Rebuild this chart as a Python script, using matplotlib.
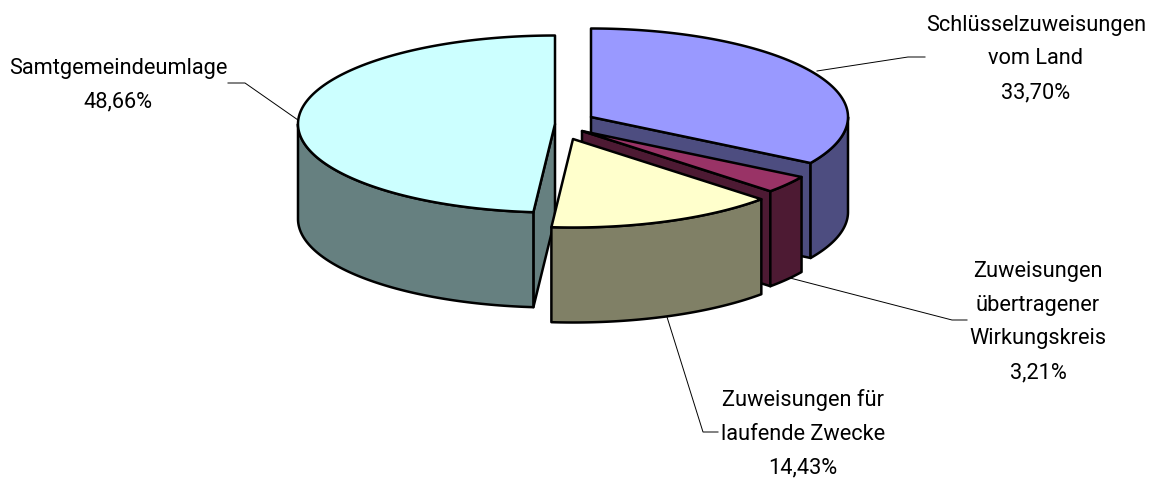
from matplotlib import pyplot as plt
import numpy as np

labels = ['Schlüsselzuweisungen\nvom Land\n33,70%',
          'Zuweisungen\nübertragener\nWirkungskreis\n3,21%',
          'Zuweisungen für\nlaufende Zwecke\n14,43%',
          'Samtgemeindeumlage\n48,66%']
shares = [33.70, 3.21, 14.43, 48.66]

top_colors = ['#9999FF', '#993366', '#FFFFCC', '#CCFFFF']
side_colors = ['#4D4D80', '#4D1A33', '#808066', '#668080']

# layout in pixels of the 1155x484 picture
apex = [(591, 117), (582, 131), (573, 139), (555, 124)]
rx = 257
ry = 88.5
depth = 95
draw_order = [0, 1, 3, 2]
label_pos = [(1036, 59), (1038, 322), (803, 434), (118, 85)]
leaders = [[(817, 71), (908, 57), (925, 57)],
           [(790, 278), (952, 320), (967, 320)],
           [(667, 317), (703, 432), (718, 432)],
           [(298, 120), (245, 83), (228, 83)]]

plt.rcParams['font.family'] = ['Roboto', 'Liberation Sans']

fig = plt.figure(figsize=(11.55, 4.84), dpi=100, facecolor='white')
ax = fig.add_axes([0, 0, 1, 1])
ax.set_xlim(0, 1155)
ax.set_ylim(484, 0)
ax.set_axis_off()


def rim(cx, cy, a):
	# a in degrees, clockwise from 12 o'clock
	r = np.radians(a)
	return cx + rx * np.sin(r), cy - ry * np.cos(r)


def face(x, y, color):
	ax.fill(x, y, facecolor=color, edgecolor='black', lw=1.8, joinstyle='round')


for line in leaders:
	xs, ys = zip(*line)
	ax.plot(xs, ys, color='black', lw=0.7)

edges = np.concatenate([[0], np.cumsum(shares)]) / sum(shares) * 360

for i in draw_order:
	cx, cy = apex[i]
	a0, a1 = edges[i], edges[i + 1]
	# cut faces that look towards the viewer
	for a, seen in ((a0, np.sin(np.radians(a0)) < -1e-6), (a1, np.sin(np.radians(a1)) > 1e-6)):
		if seen:
			x, y = rim(cx, cy, a)
			face([cx, x, x, cx], [cy, y, y + depth, cy + depth], side_colors[i])
	# outer wall, front half of the ellipse only
	lo, hi = max(a0, 90), min(a1, 270)
	if hi > lo:
		t = np.linspace(lo, hi, 80)
		x, y = rim(cx, cy, t)
		face(np.r_[x, x[::-1]], np.r_[y, y[::-1] + depth], side_colors[i])
	t = np.linspace(a0, a1, 200)
	x, y = rim(cx, cy, t)
	face(np.r_[cx, x], np.r_[cy, y], top_colors[i])

for lab, (x, y) in zip(labels, label_pos):
	ax.text(x, y, lab, ha='center', va='center', ma='center', fontsize=15.7,
	        linespacing=1.8, color='black')

fig.savefig('out.png', dpi=100)
